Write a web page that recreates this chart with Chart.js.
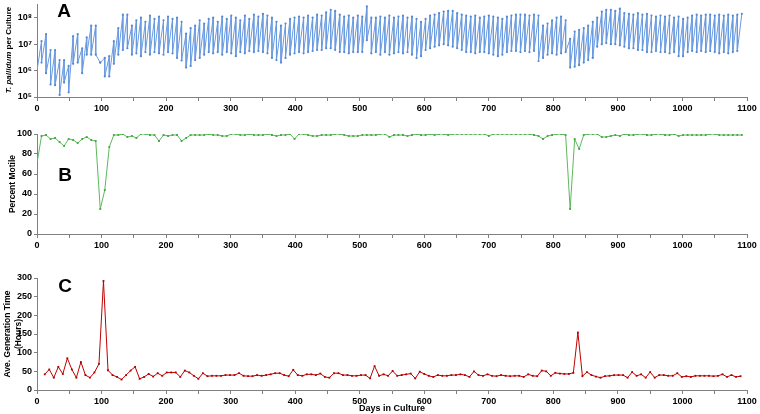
<!DOCTYPE html>
<html>
<head>
<meta charset="utf-8">
<script src="https://cdn.jsdelivr.net/npm/chart.js@4.4.1/dist/chart.umd.min.js"></script>
<style>
  body { margin: 0; background: #fff; width: 760px; height: 414px; position: relative; overflow: hidden; }
  canvas { position: absolute; left: 0; }
  #graficoA { top: 0; }
  #graficoB { top: 124px; }
  #graficoC { top: 258px; }
</style>
</head>
<body>
<canvas id="graficoA" width="760" height="116"></canvas>
<canvas id="graficoB" width="760" height="126"></canvas>
<canvas id="graficoC" width="760" height="156"></canvas>
<script>
const FONTE = "'Liberation Sans', Arial, sans-serif";

// days on which cultures were passaged (A and B are sampled on these days)
const passageDays = [
  0, 7, 14, 21, 28, 35, 42, 49, 56, 63, 70, 77, 84, 91, 98, 105, 112, 119, 126, 133,
  140, 147, 154, 161, 168, 175, 182, 189, 196, 203, 210, 217, 224, 231, 238, 245, 252, 259, 266, 273,
  280, 287, 294, 301, 308, 315, 322, 329, 336, 343, 350, 357, 364, 371, 378, 385, 392, 399, 406, 413,
  420, 427, 434, 441, 448, 455, 462, 469, 476, 483, 490, 497, 504, 511, 518, 525, 532, 539, 546, 553,
  560, 567, 574, 581, 588, 595, 602, 609, 616, 623, 630, 637, 644, 651, 658, 665, 672, 679, 686, 693,
  700, 707, 714, 721, 728, 735, 742, 749, 756, 763, 770, 777, 784, 791, 798, 805, 812, 819, 826, 833,
  840, 847, 854, 861, 868, 875, 882, 889, 896, 903, 910, 917, 924, 931, 938, 945, 952, 959, 966, 973,
  980, 987, 994, 1001, 1008, 1015, 1022, 1029, 1036, 1043, 1050, 1057, 1064, 1071, 1078, 1085, 1092
];

// A: T. pallidum per culture at the start (low) and end (high) of each passage
const cellLows = [
  1e6, 2e6, 8e5, 3e5, 2.8e5, 1.2e5, 3.5e5, 1.5e5, 1.8e6, 2e6,
  8e5, 4e6, 4e6, 4e6, 2e6, 6e5, 6e5, 1.8e6, 4e6, 6e6,
  7e6, 4e6, 4.5e6, 3.5e6, 5e6, 4e6, 5e6, 4.5e6, 4e6, 5e6,
  4.5e6, 3e6, 2.4e6, 1.3e6, 1.5e6, 2.5e6, 3e6, 4e6, 5e6, 4.5e6,
  5e6, 4e6, 5e6, 4.5e6, 3.5e6, 5e6, 4.5e6, 5.5e6, 5e6, 5.5e6,
  5e6, 4.5e6, 3e6, 2.5e6, 2e6, 3e6, 4e6, 4.5e6, 5e6, 4.5e6,
  5e6, 5.5e6, 6e6, 6e6, 7e6, 7e6, 6e6, 5e6, 5e6, 4.5e6,
  5e6, 5e6, 5e6, 1.4e7, 4.5e6, 5e6, 4e6, 5e6, 4e6, 4.5e6,
  5e6, 4.5e6, 5e6, 4e6, 3e6, 3.5e6, 6e6, 7e6, 8e6, 9e6,
  1e7, 9e6, 8e6, 7e6, 6e6, 5e6, 5e6, 4.5e6, 5e6, 5e6,
  4.5e6, 4e6, 3.5e6, 4e6, 5e6, 5.5e6, 5.5e6, 5e6, 5.5e6, 5e6,
  5.5e6, 2.3e6, 3e6, 4e6, 4.5e6, 4e6, 4.5e6, 5e6, 1.3e6, 1.4e6,
  1.6e6, 2e6, 2.5e6, 3e6, 8e6, 1e7, 1.1e7, 1e7, 1e7, 9e6,
  8e6, 7e6, 7e6, 6e6, 6e6, 5e6, 5e6, 5.5e6, 5e6, 5e6,
  4.5e6, 5e6, 3.5e6, 3.5e6, 5e6, 5.5e6, 5e6, 5.5e6, 5e6, 5.5e6,
  5e6, 4.5e6, 5e6, 4.5e6, 5e6, 5.5e6
];
const cellHighs = [
  1.3e7, 2.4e7, 6e6, 6e6, 2.5e6, 2.5e6, 1.5e6, 2e7, 2.4e7, 7e6,
  1.8e7, 5e7, 5e7, 2e6, 3e6, 3.5e6, 1.3e7, 4e7, 1.3e8, 1.3e8,
  5e7, 8e7, 1e8, 7e7, 1.2e8, 9e7, 1.1e8, 8e7, 1.1e8, 9e7,
  1e8, 7e7, 2.5e7, 4e7, 5e7, 8e7, 6e7, 9e7, 1e8, 7e7,
  1.1e8, 9e7, 1.2e8, 1e8, 8e7, 1.2e8, 9e7, 1.3e8, 1.1e8, 1.4e8,
  1.2e8, 1e8, 7e7, 5e7, 6e7, 9e7, 1e8, 1.1e8, 1e8, 1.2e8,
  1e8, 1.3e8, 1.2e8, 1.6e8, 2e8, 1.8e8, 1.3e8, 1.1e8, 1.2e8, 1e8,
  1.2e8, 1.1e8, 2.7e8, 1e8, 1e8, 1.1e8, 1e8, 1.2e8, 1e8, 1.1e8,
  1.2e8, 1e8, 1.1e8, 9e7, 7e7, 9e7, 1.2e8, 1.3e8, 1.5e8, 1.7e8,
  1.8e8, 1.8e8, 1.5e8, 1.3e8, 1.2e8, 1.1e8, 1.2e8, 1e8, 1.1e8, 1.2e8,
  1.1e8, 1e8, 9e7, 1.1e8, 1.2e8, 1.3e8, 1.3e8, 1.3e8, 1.2e8, 1.3e8,
  1.2e8, 5e7, 6e7, 8e7, 1e8, 1.1e8, 8e7, 1.6e7, 3e7, 3.5e7,
  4e7, 5e7, 7e7, 1e8, 1.7e8, 2e8, 2e8, 1.8e8, 2.2e8, 1.5e8,
  1.4e8, 1.3e8, 1.5e8, 1.3e8, 1.4e8, 1.2e8, 1.1e8, 1.2e8, 1.1e8, 1.2e8,
  1e8, 1.1e8, 9e7, 1e8, 1.2e8, 1.3e8, 1.2e8, 1.3e8, 1.3e8, 1.2e8,
  1.3e8, 1.2e8, 1.3e8, 1.2e8, 1.3e8, 1.4e8
];

// B: percent motile, one value per passage day
const motility = [
  71, 98, 99, 95, 96, 92, 88, 95, 94, 91,
  95, 97, 94, 93, 25, 44, 87, 99, 99, 100,
  97, 98, 96, 100, 100, 99, 99, 93, 99, 98,
  99, 99, 93, 96, 99, 99, 99, 99, 100, 99,
  99, 98, 98, 100, 100, 99, 99, 100, 99, 99,
  99, 100, 99, 98, 99, 99, 100, 95, 100, 100,
  99, 98, 98, 99, 99, 99, 100, 100, 99, 98,
  98, 98, 99, 99, 99, 99, 100, 100, 97, 99,
  99, 99, 98, 99, 100, 99, 99, 100, 99, 100,
  100, 99, 100, 100, 100, 100, 100, 100, 100, 100,
  98, 100, 100, 100, 100, 100, 100, 100, 100, 100,
  99, 98, 95, 98, 99, 100, 100, 99, 25, 95,
  85, 99, 100, 100, 100, 97, 97, 98, 99, 98,
  100, 99, 99, 100, 100, 99, 99, 100, 100, 99,
  99, 100, 98, 99, 99, 99, 99, 99, 99, 100,
  100, 99, 99, 99, 99, 99, 99
];

// C: average generation time (hours)
const genTimeDays = [
  12, 19, 26, 33, 40, 47, 54, 61, 68, 75, 82, 89, 96, 103, 110, 117, 124, 131, 138, 145,
  152, 159, 166, 173, 180, 187, 194, 201, 208, 215, 222, 229, 236, 243, 250, 257, 264, 271, 278, 285,
  292, 299, 306, 313, 320, 327, 334, 341, 348, 355, 362, 369, 376, 383, 390, 397, 404, 411, 418, 425,
  432, 439, 446, 453, 460, 467, 474, 481, 488, 495, 502, 509, 516, 523, 530, 537, 544, 551, 558, 565,
  572, 579, 586, 593, 600, 607, 614, 621, 628, 635, 642, 649, 656, 663, 670, 677, 684, 691, 698, 705,
  712, 719, 726, 733, 740, 747, 754, 761, 768, 775, 782, 789, 796, 803, 810, 817, 824, 831, 838, 845,
  852, 859, 866, 873, 880, 887, 894, 901, 908, 915, 922, 929, 936, 943, 950, 957, 964, 971, 978, 985,
  992, 999, 1006, 1013, 1020, 1027, 1034, 1041, 1048, 1055, 1062, 1069, 1076, 1083, 1090
];
const genTime = [
  42, 55, 33, 62, 43, 85, 55, 33, 75, 40,
  33, 47, 70, 292, 53, 40, 35, 28, 40, 52,
  62, 30, 35, 43, 36, 45, 38, 47, 47, 47,
  35, 52, 47, 38, 30, 45, 37, 38, 38, 38,
  40, 40, 40, 45, 38, 37, 37, 40, 38, 40,
  42, 45, 45, 40, 37, 54, 40, 38, 42, 42,
  40, 44, 35, 33, 45, 45, 40, 40, 38, 38,
  40, 40, 31, 64, 38, 42, 38, 51, 38, 40,
  42, 44, 31, 49, 43, 38, 35, 40, 38, 38,
  40, 40, 42, 40, 35, 50, 40, 38, 42, 38,
  37, 40, 38, 37, 38, 38, 35, 42, 38, 37,
  52, 50, 38, 46, 44, 43, 43, 46, 154, 37,
  48, 40, 36, 33, 37, 38, 40, 40, 40, 33,
  48, 38, 42, 33, 48, 33, 40, 40, 38, 38,
  45, 35, 37, 35, 38, 38, 38, 38, 37, 38,
  42, 35, 40, 35, 37
];

// tick labels
const logTicks = [1e5, 1e6, 1e7, 1e8];
const expoentes = { 5: '\u2075', 6: '\u2076', 7: '\u2077', 8: '\u2078' };

// sawtooth: low at passage start, high at next passage day
function montarSerra(dias, baixos, altos) {
  let pontos = [];
  baixos.forEach((b, i) => {
    pontos.push({ x: dias[i], y: b });
    pontos.push({ x: dias[i + 1], y: altos[i] });
  });
  return pontos;
}

function pares(dias, valores) {
  return valores.map((v, i) => ({ x: dias[i], y: v }));
}

// draws the panel letter (and the mixed-style y title of panel A)
const textoPainel = {
  id: 'textoPainel',
  afterDraw(chart, args, opts) {
    const ctx = chart.ctx;
    ctx.save();
    ctx.fillStyle = '#000';
    ctx.textAlign = 'center';
    ctx.textBaseline = 'middle';
    ctx.font = 'bold 19px ' + FONTE;
    ctx.fillText(opts.letra, opts.x, opts.y);
    if (opts.tituloItalico) {
      ctx.translate(opts.tx, opts.ty);
      ctx.rotate(-Math.PI / 2);
      const fItal = 'italic bold 8px ' + FONTE;
      const fNorm = 'bold 8px ' + FONTE;
      ctx.font = fItal;
      const w1 = ctx.measureText(opts.tituloItalico).width;
      ctx.font = fNorm;
      const w2 = ctx.measureText(opts.tituloResto).width;
      ctx.textAlign = 'left';
      let x0 = -(w1 + w2) / 2;
      ctx.font = fItal;
      ctx.fillText(opts.tituloItalico, x0, 0);
      ctx.font = fNorm;
      ctx.fillText(opts.tituloResto, x0 + w1, 0);
    }
    ctx.restore();
  }
};

function eixoX(altura, titulo) {
  return {
    type: 'linear', min: 0, max: 1100,
    ticks: {
      stepSize: 50, autoSkip: false, maxRotation: 0, padding: 2, color: '#000',
      font: { family: FONTE, weight: 'bold', size: 9 },
      callback: (v) => (v % 100 === 0 ? String(v) : '')
    },
    grid: { drawOnChartArea: false, tickLength: 4, color: '#808080' },
    border: { color: '#808080' },
    title: titulo ? { display: true, text: titulo, color: '#000', padding: { top: 0, bottom: 0 },
      font: { family: FONTE, weight: 'bold', size: 9 } } : { display: false },
    afterFit: (s) => { s.height = altura; }
  };
}

function eixoY(extra) {
  return Object.assign({
    ticks: { color: '#000', padding: 2, font: { family: FONTE, weight: 'bold', size: 9 } },
    grid: { drawOnChartArea: false, tickLength: 3, color: '#808080' },
    border: { color: '#808080' },
    afterFit: (s) => { s.width = 37; }
  }, extra);
}

const comuns = {
  responsive: false, animation: false,
  plugins: { legend: { display: false }, tooltip: { enabled: false } }
};

// Panel A
new Chart(document.getElementById('graficoA'), {
  type: 'line',
  data: { datasets: [{
    data: montarSerra(passageDays, cellLows, cellHighs),
    borderColor: '#6a9be0', backgroundColor: '#5588d6', borderWidth: 1,
    pointRadius: 1.1, pointBorderWidth: 0, tension: 0
  }] },
  options: Object.assign({}, comuns, {
    layout: { padding: { top: 2, right: 13, left: 0, bottom: 0 } },
    plugins: Object.assign({}, comuns.plugins, {
      textoPainel: { letra: 'A', x: 64, y: 12, tituloItalico: 'T. pallidum', tituloResto: ' per Culture', tx: 9, ty: 50 }
    }),
    scales: {
      x: eixoX(19),
      y: eixoY({
        type: 'logarithmic', min: 1e5, max: 3.3e8,
        afterBuildTicks: (s) => { s.ticks = logTicks.map(v => ({ value: v })); },
        afterFit: (s) => { s.width = 37; s.paddingTop = 0; s.paddingBottom = 0; },
        ticks: { color: '#000', padding: 2, font: { family: FONTE, weight: 'bold', size: 9 },
          callback: (v) => '10' + expoentes[Math.round(Math.log10(v))] }
      })
    }
  }),
  plugins: [textoPainel]
});

// Panel B
new Chart(document.getElementById('graficoB'), {
  type: 'line',
  data: { datasets: [{
    data: pares(passageDays, motility),
    borderColor: '#5cb85c', backgroundColor: '#3fa83f', borderWidth: 1,
    pointRadius: 1.3, pointStyle: 'rect', pointBorderWidth: 0, tension: 0
  }] },
  options: Object.assign({}, comuns, {
    layout: { padding: { top: 10, right: 13, left: 0, bottom: 0 } },
    plugins: Object.assign({}, comuns.plugins, { textoPainel: { letra: 'B', x: 65, y: 52 } }),
    scales: {
      x: eixoX(16),
      y: eixoY({
        min: 0, max: 100,
        ticks: { stepSize: 20, color: '#000', padding: 2, font: { family: FONTE, weight: 'bold', size: 9 } },
        title: { display: true, text: 'Percent Motile', color: '#000', padding: { top: 8, bottom: 0 },
          font: { family: FONTE, weight: 'bold', size: 8.5 } }
      })
    }
  }),
  plugins: [textoPainel]
});

// Panel C
new Chart(document.getElementById('graficoC'), {
  type: 'line',
  data: { datasets: [{
    data: pares(genTimeDays, genTime),
    borderColor: '#c00000', backgroundColor: '#b00000', borderWidth: 1,
    pointRadius: 1.3, pointStyle: 'rect', pointBorderWidth: 0, tension: 0
  }] },
  options: Object.assign({}, comuns, {
    layout: { padding: { top: 20, right: 13, left: 0, bottom: 0 } },
    plugins: Object.assign({}, comuns.plugins, { textoPainel: { letra: 'C', x: 65, y: 29 } }),
    scales: {
      x: eixoX(24, 'Days in Culture'),
      y: eixoY({
        min: 0, max: 300,
        ticks: { stepSize: 50, color: '#000', padding: 2, font: { family: FONTE, weight: 'bold', size: 9 } },
        title: { display: true, text: ['Ave. Generation Time', '(Hours)'], color: '#000', padding: { top: 3, bottom: 0 },
          font: { family: FONTE, weight: 'bold', size: 8.5 } }
      })
    }
  }),
  plugins: [textoPainel]
});
</script>
</body>
</html>
